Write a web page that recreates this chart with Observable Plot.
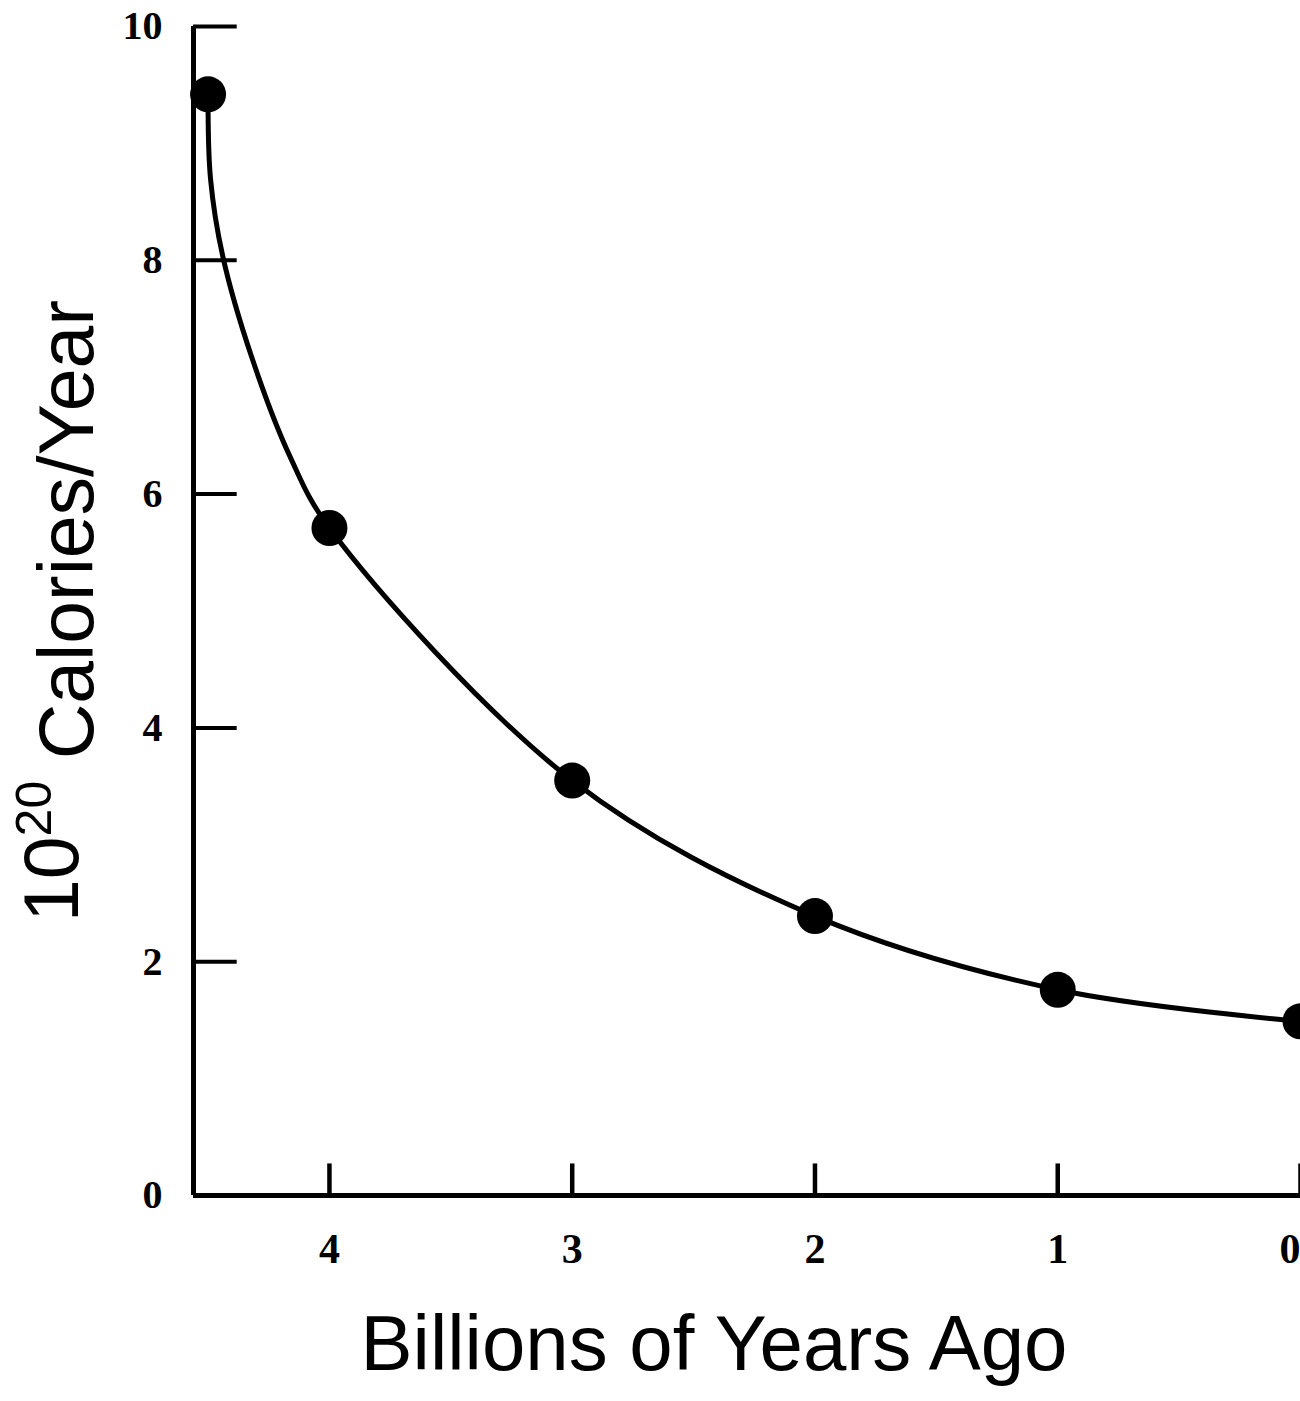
<!DOCTYPE html>
<html>
<head>
<meta charset="utf-8">
<script src="https://cdn.jsdelivr.net/npm/d3@7"></script>
<script src="https://cdn.jsdelivr.net/npm/@observablehq/plot@0.6"></script>
<style>
  html, body { margin: 0; padding: 0; background: #fff; overflow: hidden; }
  #chart svg { overflow: hidden; }
</style>
</head>
<body>
<div id="chart"></div>
<script>
// Data points
const billionsAgo = [4.5, 4, 3, 2, 1, 0];
const calories = [9.42, 5.71, 3.55, 2.39, 1.76, 1.49];
const curveTraceX = [4.49, 4.44, 4.32, 4.16];
const curveTraceY = [8.70, 8.04, 7.17, 6.31];
const xTicks = [4, 3, 2, 1, 0];
const yTicks = [0, 2, 4, 6, 8, 10];
const xTitle = "Billions of Years Ago";
const yTitle = "Calories/Year";

const dots = billionsAgo.map((x, i) => ({x, y: calories[i]}));
const curve = dots.concat(curveTraceX.map((x, i) => ({x, y: curveTraceY[i]})))
  .sort((a, b) => b.x - a.x);
const xLeft = 4.56;
const pxPerUnit = 242.7;

const tickFont = "'Liberation Serif', 'Times New Roman', serif";
const titleFont = "'Liberation Sans', Arial, sans-serif";

const plot = Plot.plot({
  width: 1300,
  height: 1401,
  marginLeft: Math.round(1300 - xLeft * pxPerUnit),
  marginRight: 0,
  marginTop: 26,
  marginBottom: 206,
  style: {background: "#fff", color: "#000"},
  x: {domain: [xLeft, 0], ticks: xTicks},
  y: {domain: [0, 10], ticks: yTicks},
  marks: [
    // axis lines
    Plot.ruleY([0], {stroke: "#000", strokeWidth: 5}),
    Plot.ruleX([xLeft], {stroke: "#000", strokeWidth: 5}),
    // inward ticks
    Plot.ruleX(xTicks, {y1: 0, y2: 0.27, stroke: "#000", strokeWidth: 4.5}),
    Plot.ruleY(yTicks.filter(d => d > 0), {x1: xLeft, x2: xLeft - 0.18, stroke: "#000", strokeWidth: 4}),
    // tick labels
    Plot.axisX({ticks: xTicks.filter(d => d > 0), tickFormat: d3.format("d"), tickSize: 0, tickPadding: 38, label: null,
      fontSize: 42, fontWeight: "bold", fontFamily: tickFont, textAnchor: "middle"}),
    Plot.axisX({ticks: xTicks.filter(d => d === 0), tickFormat: d3.format("d"), tickSize: 0, tickPadding: 38, label: null,
      fontSize: 42, fontWeight: "bold", fontFamily: tickFont, textAnchor: "end"}),
    Plot.axisY({ticks: yTicks, tickFormat: d3.format("d"), tickSize: 0, tickPadding: 31, label: null,
      fontSize: 40, fontWeight: "bold", fontFamily: tickFont}),
    // curve and points
    Plot.line(curve, {x: "x", y: "y", curve: "catmull-rom", stroke: "#000", strokeWidth: 5}),
    Plot.dot(dots, {x: "x", y: "y", r: 18, fill: "#000", stroke: "none"}),
    // titles
    Plot.text([xTitle], {frameAnchor: "bottom", dx: -33, dy: 150, lineAnchor: "middle", textAnchor: "middle",
      fontSize: 78, fontFamily: titleFont, fill: "#000"}),
    Plot.text([yTitle], {frameAnchor: "left", dx: -140, rotate: -90, lineAnchor: "middle", textAnchor: "middle",
      fontSize: 77, fontFamily: titleFont, fill: "#000", className: "ytitle"})
  ]
});
document.getElementById("chart").appendChild(plot);

// Add the "10^20" prefix as real text with a superscript
d3.select(plot).selectAll("g.ytitle text").each(function() {
  const t = d3.select(this);
  const txt = t.text();
  t.text(null);
  t.append("tspan").text("10");
  t.append("tspan").attr("font-size", 50).attr("dy", "-0.55em").text("20");
  t.append("tspan").attr("dy", "0.55em").text(" " + txt);
});
</script>
</body>
</html>
